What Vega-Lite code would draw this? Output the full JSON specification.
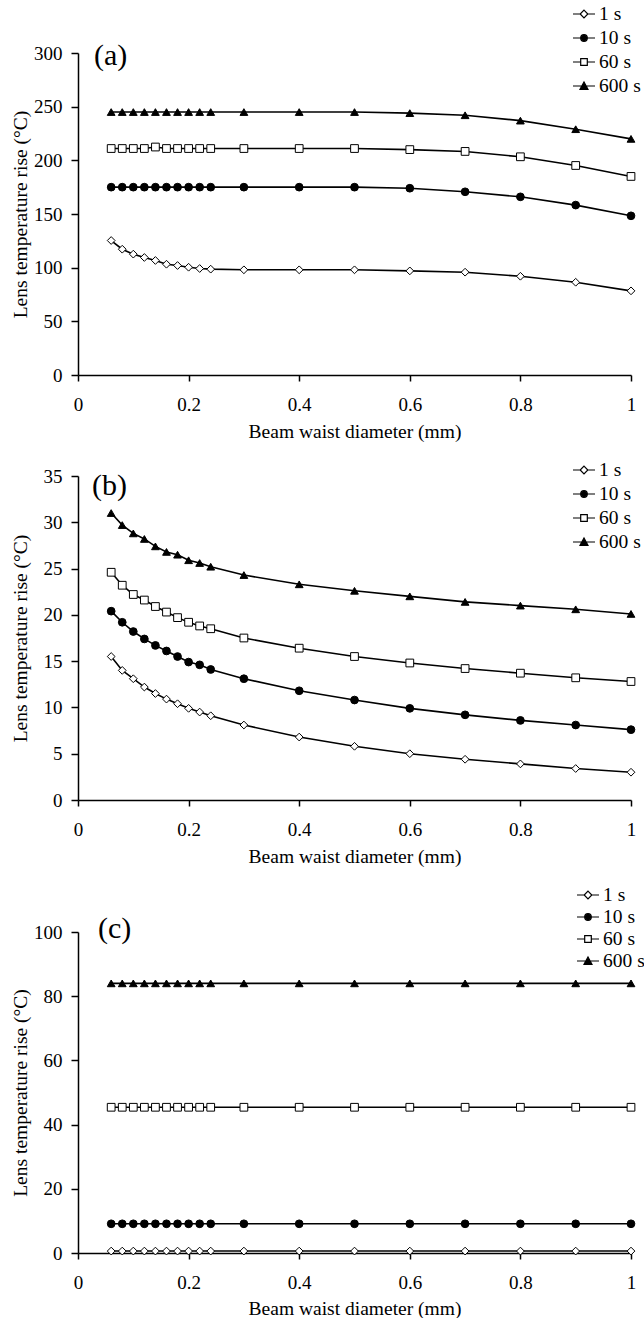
{
"$schema":"https://vega.github.io/schema/vega-lite/v6.json",
"padding":{"left":10,"top":2,"right":0,"bottom":0},
"background":"white",
"spacing":17,
"align":"none",
"config":{"font":"Liberation Serif","view":{"stroke":null},
 "axis":{"grid":false,"domainColor":"black","domainWidth":1.5,"tickColor":"black","tickWidth":1.5,"labelFont":"Liberation Serif","labelFontSize":19,"labelColor":"black","titleFont":"Liberation Serif","titleFontSize":19.5,"titleFontWeight":"normal","titleColor":"black","labelFlush":false,"labelOverlap":false},
 "legend":{"labelFont":"Liberation Serif","labelFontSize":19.5,"labelColor":"black"}},
"resolve":{"scale":{"shape":"independent","fill":"independent","x":"independent","y":"independent"},"legend":{"shape":"independent","fill":"independent"}},
"datasets":{
"a":[
{"d":0.06,"s":"1 s","t":125.3},{"d":0.08,"s":"1 s","t":117.2},{"d":0.1,"s":"1 s","t":112.6},{"d":0.12,"s":"1 s","t":109.5},{"d":0.14,"s":"1 s","t":106.7},{"d":0.16,"s":"1 s","t":103.2},{"d":0.18,"s":"1 s","t":102.0},{"d":0.2,"s":"1 s","t":100.4},{"d":0.22,"s":"1 s","t":99.2},{"d":0.24,"s":"1 s","t":98.6},{"d":0.3,"s":"1 s","t":98.0},{"d":0.4,"s":"1 s","t":98.0},{"d":0.5,"s":"1 s","t":98.0},{"d":0.6,"s":"1 s","t":97.0},{"d":0.7,"s":"1 s","t":95.8},{"d":0.8,"s":"1 s","t":92.0},{"d":0.9,"s":"1 s","t":86.4},{"d":1,"s":"1 s","t":78.4},
{"d":0.06,"s":"10 s","t":175},{"d":0.08,"s":"10 s","t":175},{"d":0.1,"s":"10 s","t":175},{"d":0.12,"s":"10 s","t":175},{"d":0.14,"s":"10 s","t":175},{"d":0.16,"s":"10 s","t":175},{"d":0.18,"s":"10 s","t":175},{"d":0.2,"s":"10 s","t":175},{"d":0.22,"s":"10 s","t":175},{"d":0.24,"s":"10 s","t":175},{"d":0.3,"s":"10 s","t":175},{"d":0.4,"s":"10 s","t":175},{"d":0.5,"s":"10 s","t":175},{"d":0.6,"s":"10 s","t":174},{"d":0.7,"s":"10 s","t":170.7},{"d":0.8,"s":"10 s","t":166},{"d":0.9,"s":"10 s","t":158.3},{"d":1,"s":"10 s","t":148.3},
{"d":0.06,"s":"60 s","t":211},{"d":0.08,"s":"60 s","t":211},{"d":0.1,"s":"60 s","t":211},{"d":0.12,"s":"60 s","t":211},{"d":0.14,"s":"60 s","t":212.4},{"d":0.16,"s":"60 s","t":211},{"d":0.18,"s":"60 s","t":211},{"d":0.2,"s":"60 s","t":211},{"d":0.22,"s":"60 s","t":211},{"d":0.24,"s":"60 s","t":211},{"d":0.3,"s":"60 s","t":211},{"d":0.4,"s":"60 s","t":211},{"d":0.5,"s":"60 s","t":211},{"d":0.6,"s":"60 s","t":210},{"d":0.7,"s":"60 s","t":208.3},{"d":0.8,"s":"60 s","t":203.3},{"d":0.9,"s":"60 s","t":195.2},{"d":1,"s":"60 s","t":185},
{"d":0.06,"s":"600 s","t":245},{"d":0.08,"s":"600 s","t":245},{"d":0.1,"s":"600 s","t":245},{"d":0.12,"s":"600 s","t":245},{"d":0.14,"s":"600 s","t":245},{"d":0.16,"s":"600 s","t":245},{"d":0.18,"s":"600 s","t":245},{"d":0.2,"s":"600 s","t":245},{"d":0.22,"s":"600 s","t":245},{"d":0.24,"s":"600 s","t":245},{"d":0.3,"s":"600 s","t":245},{"d":0.4,"s":"600 s","t":245},{"d":0.5,"s":"600 s","t":245},{"d":0.6,"s":"600 s","t":244},{"d":0.7,"s":"600 s","t":242},{"d":0.8,"s":"600 s","t":237},{"d":0.9,"s":"600 s","t":229},{"d":1,"s":"600 s","t":220}
],
"b":[
{"d":0.06,"s":"1 s","t":15.5},{"d":0.08,"s":"1 s","t":14.0},{"d":0.1,"s":"1 s","t":13.1},{"d":0.12,"s":"1 s","t":12.2},{"d":0.14,"s":"1 s","t":11.5},{"d":0.16,"s":"1 s","t":10.9},{"d":0.18,"s":"1 s","t":10.4},{"d":0.2,"s":"1 s","t":9.9},{"d":0.22,"s":"1 s","t":9.5},{"d":0.24,"s":"1 s","t":9.1},{"d":0.3,"s":"1 s","t":8.1},{"d":0.4,"s":"1 s","t":6.8},{"d":0.5,"s":"1 s","t":5.8},{"d":0.6,"s":"1 s","t":5.0},{"d":0.7,"s":"1 s","t":4.4},{"d":0.8,"s":"1 s","t":3.9},{"d":0.9,"s":"1 s","t":3.4},{"d":1,"s":"1 s","t":3.0},
{"d":0.06,"s":"10 s","t":20.4},{"d":0.08,"s":"10 s","t":19.2},{"d":0.1,"s":"10 s","t":18.2},{"d":0.12,"s":"10 s","t":17.4},{"d":0.14,"s":"10 s","t":16.7},{"d":0.16,"s":"10 s","t":16.1},{"d":0.18,"s":"10 s","t":15.5},{"d":0.2,"s":"10 s","t":14.9},{"d":0.22,"s":"10 s","t":14.6},{"d":0.24,"s":"10 s","t":14.1},{"d":0.3,"s":"10 s","t":13.1},{"d":0.4,"s":"10 s","t":11.8},{"d":0.5,"s":"10 s","t":10.8},{"d":0.6,"s":"10 s","t":9.9},{"d":0.7,"s":"10 s","t":9.2},{"d":0.8,"s":"10 s","t":8.6},{"d":0.9,"s":"10 s","t":8.1},{"d":1,"s":"10 s","t":7.6},
{"d":0.06,"s":"60 s","t":24.6},{"d":0.08,"s":"60 s","t":23.2},{"d":0.1,"s":"60 s","t":22.2},{"d":0.12,"s":"60 s","t":21.6},{"d":0.14,"s":"60 s","t":20.9},{"d":0.16,"s":"60 s","t":20.3},{"d":0.18,"s":"60 s","t":19.7},{"d":0.2,"s":"60 s","t":19.2},{"d":0.22,"s":"60 s","t":18.8},{"d":0.24,"s":"60 s","t":18.5},{"d":0.3,"s":"60 s","t":17.5},{"d":0.4,"s":"60 s","t":16.4},{"d":0.5,"s":"60 s","t":15.5},{"d":0.6,"s":"60 s","t":14.8},{"d":0.7,"s":"60 s","t":14.2},{"d":0.8,"s":"60 s","t":13.7},{"d":0.9,"s":"60 s","t":13.2},{"d":1,"s":"60 s","t":12.8},
{"d":0.06,"s":"600 s","t":31.0},{"d":0.08,"s":"600 s","t":29.7},{"d":0.1,"s":"600 s","t":28.8},{"d":0.12,"s":"600 s","t":28.2},{"d":0.14,"s":"600 s","t":27.4},{"d":0.16,"s":"600 s","t":26.8},{"d":0.18,"s":"600 s","t":26.5},{"d":0.2,"s":"600 s","t":25.9},{"d":0.22,"s":"600 s","t":25.6},{"d":0.24,"s":"600 s","t":25.2},{"d":0.3,"s":"600 s","t":24.3},{"d":0.4,"s":"600 s","t":23.3},{"d":0.5,"s":"600 s","t":22.6},{"d":0.6,"s":"600 s","t":22.0},{"d":0.7,"s":"600 s","t":21.4},{"d":0.8,"s":"600 s","t":21.0},{"d":0.9,"s":"600 s","t":20.6},{"d":1,"s":"600 s","t":20.1}
],
"c":[
{"d":0.06,"s":"1 s","t":0.6},{"d":0.08,"s":"1 s","t":0.6},{"d":0.1,"s":"1 s","t":0.6},{"d":0.12,"s":"1 s","t":0.6},{"d":0.14,"s":"1 s","t":0.6},{"d":0.16,"s":"1 s","t":0.6},{"d":0.18,"s":"1 s","t":0.6},{"d":0.2,"s":"1 s","t":0.6},{"d":0.22,"s":"1 s","t":0.6},{"d":0.24,"s":"1 s","t":0.6},{"d":0.3,"s":"1 s","t":0.6},{"d":0.4,"s":"1 s","t":0.6},{"d":0.5,"s":"1 s","t":0.6},{"d":0.6,"s":"1 s","t":0.6},{"d":0.7,"s":"1 s","t":0.6},{"d":0.8,"s":"1 s","t":0.6},{"d":0.9,"s":"1 s","t":0.6},{"d":1,"s":"1 s","t":0.6},
{"d":0.06,"s":"10 s","t":9.1},{"d":0.08,"s":"10 s","t":9.1},{"d":0.1,"s":"10 s","t":9.1},{"d":0.12,"s":"10 s","t":9.1},{"d":0.14,"s":"10 s","t":9.1},{"d":0.16,"s":"10 s","t":9.1},{"d":0.18,"s":"10 s","t":9.1},{"d":0.2,"s":"10 s","t":9.1},{"d":0.22,"s":"10 s","t":9.1},{"d":0.24,"s":"10 s","t":9.1},{"d":0.3,"s":"10 s","t":9.1},{"d":0.4,"s":"10 s","t":9.1},{"d":0.5,"s":"10 s","t":9.1},{"d":0.6,"s":"10 s","t":9.1},{"d":0.7,"s":"10 s","t":9.1},{"d":0.8,"s":"10 s","t":9.1},{"d":0.9,"s":"10 s","t":9.1},{"d":1,"s":"10 s","t":9.1},
{"d":0.06,"s":"60 s","t":45.4},{"d":0.08,"s":"60 s","t":45.4},{"d":0.1,"s":"60 s","t":45.4},{"d":0.12,"s":"60 s","t":45.4},{"d":0.14,"s":"60 s","t":45.4},{"d":0.16,"s":"60 s","t":45.4},{"d":0.18,"s":"60 s","t":45.4},{"d":0.2,"s":"60 s","t":45.4},{"d":0.22,"s":"60 s","t":45.4},{"d":0.24,"s":"60 s","t":45.4},{"d":0.3,"s":"60 s","t":45.4},{"d":0.4,"s":"60 s","t":45.4},{"d":0.5,"s":"60 s","t":45.4},{"d":0.6,"s":"60 s","t":45.4},{"d":0.7,"s":"60 s","t":45.4},{"d":0.8,"s":"60 s","t":45.4},{"d":0.9,"s":"60 s","t":45.4},{"d":1,"s":"60 s","t":45.4},
{"d":0.06,"s":"600 s","t":84},{"d":0.08,"s":"600 s","t":84},{"d":0.1,"s":"600 s","t":84},{"d":0.12,"s":"600 s","t":84},{"d":0.14,"s":"600 s","t":84},{"d":0.16,"s":"600 s","t":84},{"d":0.18,"s":"600 s","t":84},{"d":0.2,"s":"600 s","t":84},{"d":0.22,"s":"600 s","t":84},{"d":0.24,"s":"600 s","t":84},{"d":0.3,"s":"600 s","t":84},{"d":0.4,"s":"600 s","t":84},{"d":0.5,"s":"600 s","t":84},{"d":0.6,"s":"600 s","t":84},{"d":0.7,"s":"600 s","t":84},{"d":0.8,"s":"600 s","t":84},{"d":0.9,"s":"600 s","t":84},{"d":1,"s":"600 s","t":84}
]},
"vconcat":[
{"width":553,"height":322,"data":{"name":"a"},
 "title":{"text":"(a)","anchor":"start","frame":"group","dx":16,"dy":99,"offset":0,"fontSize":30,"font":"Liberation Serif","fontWeight":"normal","color":"black","baseline":"bottom"},
 "encoding":{
  "x":{"field":"d","type":"quantitative","scale":{"domain":[0,1],"nice":false},"axis":{"title":"Beam waist diameter (mm)","values":[0,0.2,0.4,0.6,0.8,1],"format":"~g","tickSize":6,"labelPadding":14,"titlePadding":8}},
  "y":{"field":"t","type":"quantitative","scale":{"domain":[0,300],"nice":false},"axis":{"title":"Lens temperature rise (°C)","values":[0,50,100,150,200,250,300],"tickSize":7,"labelPadding":9,"titleX":-58,"titleBaseline":"middle"}}},
 "resolve":{"scale":{"shape":"independent","fill":"independent"}},
 "layer":[
  {"mark":{"type":"line","color":"black","strokeWidth":1.6},"encoding":{"detail":{"field":"s"}}},
  {"mark":{"type":"point","stroke":"black","strokeWidth":1,"opacity":1,"fillOpacity":1,"size":60},
   "encoding":{
    "fill":{"field":"s","type":"nominal","scale":{"domain":["1 s","10 s","60 s","600 s"],"range":["white","black","white","black"]},"legend":null},
    "shape":{"field":"s","type":"nominal","scale":{"domain":["1 s","10 s","60 s","600 s"],"range":["diamond","circle","square","triangle-up"]},"legend":null}}},
  {"transform":[{"filter":"datum.t < 0"}],
   "mark":{"type":"point","stroke":"black","strokeWidth":1.2,"opacity":1,"fillOpacity":1},
   "encoding":{
    "fill":{"field":"s","type":"nominal","scale":{"domain":["1 s","10 s","60 s","600 s"],"range":["white","black","white","black"]},"legend":null},
    "shape":{"field":"s","type":"nominal","scale":{"domain":["1 s","10 s","60 s","600 s"],"range":["M-1,0H-0.35M0,-0.35L0.35,0L0,0.35L-0.35,0ZM0.35,0H1","M-1,0H1M-0.3,0A0.3,0.3,0,1,1,0.3,0A0.3,0.3,0,1,1,-0.3,0Z","M-1,0H-0.3M-0.3,-0.3H0.3V0.3H-0.3ZM0.3,0H1","M-1,0H1M-0.36,0.3L0,-0.36L0.36,0.3Z"]},
     "legend":{"orient":"none","legendX":494,"legendY":-51,"title":null,"symbolSize":484,"labelOffset":3,"rowPadding":2,"padding":0,"symbolStrokeWidth":1.2}}}}
 ]},
{"width":553,"height":324,"data":{"name":"b"},
 "title":{"text":"(b)","anchor":"start","frame":"group","dx":14,"dy":73,"offset":0,"fontSize":30,"font":"Liberation Serif","fontWeight":"normal","color":"black","baseline":"bottom"},
 "encoding":{
  "x":{"field":"d","type":"quantitative","scale":{"domain":[0,1],"nice":false},"axis":{"title":"Beam waist diameter (mm)","values":[0,0.2,0.4,0.6,0.8,1],"format":"~g","tickSize":6,"labelPadding":14,"titlePadding":8}},
  "y":{"field":"t","type":"quantitative","scale":{"domain":[0,35],"nice":false},"axis":{"title":"Lens temperature rise (°C)","values":[0,5,10,15,20,25,30,35],"tickSize":7,"labelPadding":9,"titleX":-58,"titleBaseline":"middle"}}},
 "resolve":{"scale":{"shape":"independent","fill":"independent"}},
 "layer":[
  {"mark":{"type":"line","color":"black","strokeWidth":1.6},"encoding":{"detail":{"field":"s"}}},
  {"mark":{"type":"point","stroke":"black","strokeWidth":1,"opacity":1,"fillOpacity":1,"size":60},
   "encoding":{
    "fill":{"field":"s","type":"nominal","scale":{"domain":["1 s","10 s","60 s","600 s"],"range":["white","black","white","black"]},"legend":null},
    "shape":{"field":"s","type":"nominal","scale":{"domain":["1 s","10 s","60 s","600 s"],"range":["diamond","circle","square","triangle-up"]},"legend":null}}},
  {"transform":[{"filter":"datum.t < 0"}],
   "mark":{"type":"point","stroke":"black","strokeWidth":1.2,"opacity":1,"fillOpacity":1},
   "encoding":{
    "fill":{"field":"s","type":"nominal","scale":{"domain":["1 s","10 s","60 s","600 s"],"range":["white","black","white","black"]},"legend":null},
    "shape":{"field":"s","type":"nominal","scale":{"domain":["1 s","10 s","60 s","600 s"],"range":["M-1,0H-0.35M0,-0.35L0.35,0L0,0.35L-0.35,0ZM0.35,0H1","M-1,0H1M-0.3,0A0.3,0.3,0,1,1,0.3,0A0.3,0.3,0,1,1,-0.3,0Z","M-1,0H-0.3M-0.3,-0.3H0.3V0.3H-0.3ZM0.3,0H1","M-1,0H1M-0.36,0.3L0,-0.36L0.36,0.3Z"]},
     "legend":{"orient":"none","legendX":494,"legendY":-18,"title":null,"symbolSize":484,"labelOffset":3,"rowPadding":2,"padding":0,"symbolStrokeWidth":1.2}}}}
 ]},
{"width":553,"height":321,"data":{"name":"c"},
 "title":{"text":"(c)","anchor":"start","frame":"group","dx":20,"dy":91,"offset":0,"fontSize":30,"font":"Liberation Serif","fontWeight":"normal","color":"black","baseline":"bottom"},
 "encoding":{
  "x":{"field":"d","type":"quantitative","scale":{"domain":[0,1],"nice":false},"axis":{"title":"Beam waist diameter (mm)","values":[0,0.2,0.4,0.6,0.8,1],"format":"~g","tickSize":6,"labelPadding":14,"titlePadding":7}},
  "y":{"field":"t","type":"quantitative","scale":{"domain":[0,100],"nice":false},"axis":{"title":"Lens temperature rise (°C)","values":[0,20,40,60,80,100],"tickSize":7,"labelPadding":9,"titleX":-58,"titleBaseline":"middle"}}},
 "resolve":{"scale":{"shape":"independent","fill":"independent"}},
 "layer":[
  {"mark":{"type":"line","color":"black","strokeWidth":1.6},"encoding":{"detail":{"field":"s"}}},
  {"mark":{"type":"point","stroke":"black","strokeWidth":1,"opacity":1,"fillOpacity":1,"size":60},
   "encoding":{
    "fill":{"field":"s","type":"nominal","scale":{"domain":["1 s","10 s","60 s","600 s"],"range":["white","black","white","black"]},"legend":null},
    "shape":{"field":"s","type":"nominal","scale":{"domain":["1 s","10 s","60 s","600 s"],"range":["diamond","circle","square","triangle-up"]},"legend":null}}},
  {"transform":[{"filter":"datum.t < 0"}],
   "mark":{"type":"point","stroke":"black","strokeWidth":1.2,"opacity":1,"fillOpacity":1},
   "encoding":{
    "fill":{"field":"s","type":"nominal","scale":{"domain":["1 s","10 s","60 s","600 s"],"range":["white","black","white","black"]},"legend":null},
    "shape":{"field":"s","type":"nominal","scale":{"domain":["1 s","10 s","60 s","600 s"],"range":["M-1,0H-0.35M0,-0.35L0.35,0L0,0.35L-0.35,0ZM0.35,0H1","M-1,0H1M-0.3,0A0.3,0.3,0,1,1,0.3,0A0.3,0.3,0,1,1,-0.3,0Z","M-1,0H-0.3M-0.3,-0.3H0.3V0.3H-0.3ZM0.3,0H1","M-1,0H1M-0.36,0.3L0,-0.36L0.36,0.3Z"]},
     "legend":{"orient":"none","legendX":498,"legendY":-49,"title":null,"symbolSize":484,"labelOffset":3,"rowPadding":0,"padding":0,"symbolStrokeWidth":1.2}}}}
 ]}
]}
